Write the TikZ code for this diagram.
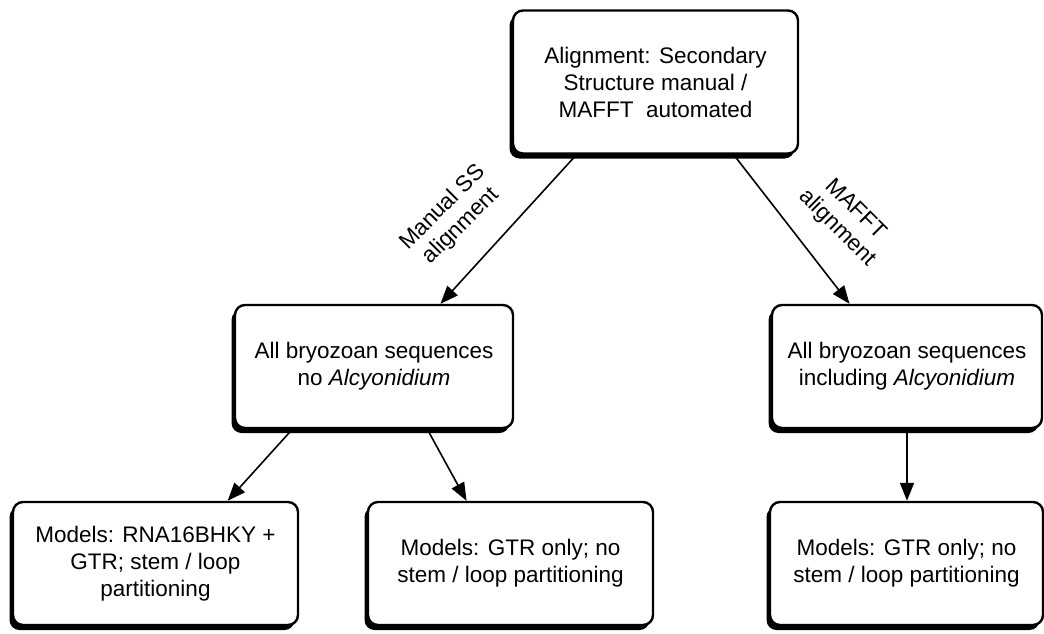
\documentclass[tikz,border=0pt]{standalone}
\usepackage{fontspec}
\setmainfont{Liberation Sans}
\usetikzlibrary{arrows.meta,calc,shadows}

\tikzset{
  stage/.style={draw, line width=2.4pt, rounded corners=10pt, fill=white,
    align=center, inner sep=0pt, font=\fontsize{22.5}{27}\selectfont,
    drop shadow={shadow xshift=-3.5pt, shadow yshift=-5pt, fill=black, opacity=1}},
  wide/.style={minimum width=285pt, minimum height=123pt},
  branch/.style={line width=1.6pt, -{Triangle[length=18pt,width=14pt]}},
  branchlabel/.style={align=center, inner sep=0pt, font=\fontsize{22.5}{26}\selectfont}
}

\begin{document}
\begin{tikzpicture}[x=1pt, y=-1pt]
\useasboundingbox (0,0) rectangle (1044,633);

% alignment choice
\node[stage, minimum width=285pt, minimum height=143pt] (align) at (655.5,82)
  {Alignment: Secondary\\Structure manual /\\MAFFT\ \ automated};

% data sets
\node[stage, minimum width=278pt, minimum height=123pt] (noalcy) at (374,366.5)
  {All bryozoan sequences\\no \textit{Alcyonidium}};
\node[stage, minimum width=270pt, minimum height=123pt] (withalcy) at (907,366.5)
  {All bryozoan sequences\\including \textit{Alcyonidium}};

% models
\node[stage, wide] (stemloop) at (155.5,563.5)
  {Models: RNA16BHKY +\\GTR; stem / loop\\partitioning};
\node[stage, wide] (gtrleft) at (510.5,563.5)
  {Models: GTR only; no\\stem / loop partitioning};
\node[stage, minimum width=273pt, minimum height=123pt] (gtrright) at (906.5,563.5)
  {Models: GTR only; no\\stem / loop partitioning};

% arrows
\draw[branch] ($(align.south west)!0.225!(align.south east)$)
  -- ($(noalcy.north west)!0.737!(noalcy.north east)$);
\draw[branch] ($(align.south west)!0.772!(align.south east)$)
  -- ($(withalcy.north west)!0.289!(withalcy.north east)$);
\draw[branch] ($(noalcy.south west)!0.209!(noalcy.south east)$)
  -- ($(stemloop.north west)!0.751!(stemloop.north east)$);
\draw[branch] ($(noalcy.south west)!0.69!(noalcy.south east)$)
  -- ($(gtrleft.north west)!0.347!(gtrleft.north east)$);
\draw[branch] (withalcy.south) -- (withalcy.south |- gtrright.north);

\node[branchlabel, rotate=45] (sslabel) at (452,217) {Manual SS\\alignment};
\node[branchlabel, rotate=-45] (mafftlabel) at (846,219) {MAFFT\\alignment};
\end{tikzpicture}
\end{document}
